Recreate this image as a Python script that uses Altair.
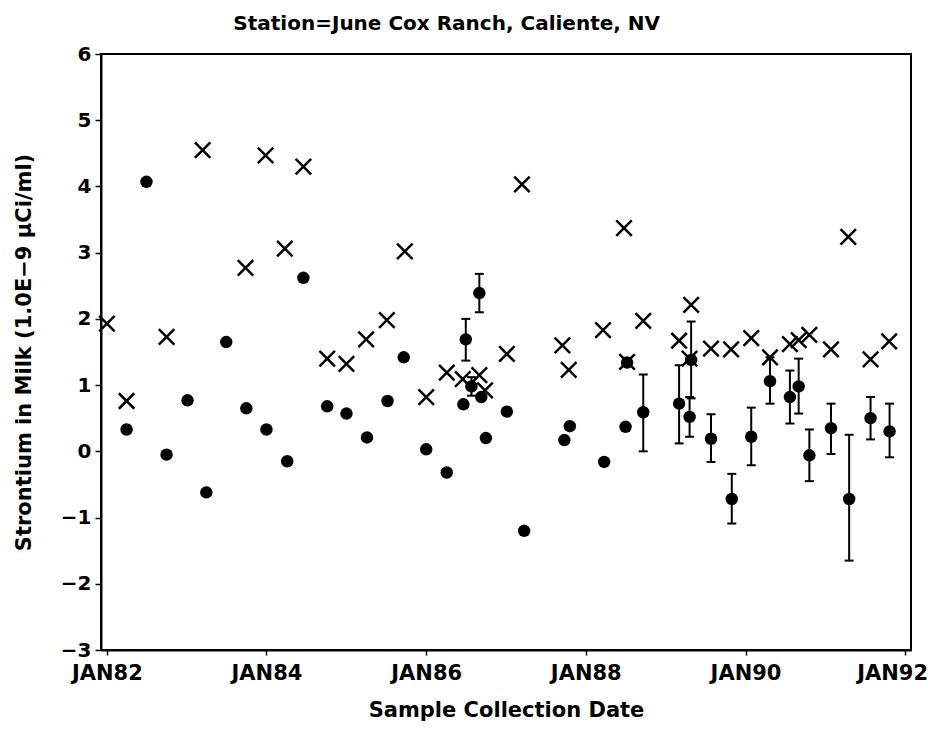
import altair as alt
import pandas as pd

# "X" marker series
cross_dates = ["1982-01-01", "1982-04-01", "1982-10-01", "1983-03-15", "1983-09-27",
               "1983-12-28", "1984-03-25", "1984-06-18", "1984-10-05", "1985-01-01",
               "1985-04-01", "1985-07-05", "1985-09-25", "1986-01-01", "1986-04-05",
               "1986-06-17", "1986-09-01", "1986-09-27", "1987-01-05", "1987-03-15",
               "1987-09-16", "1987-10-15", "1988-03-20", "1988-06-24", "1988-07-08",
               "1988-09-20", "1989-03-03", "1989-04-27", "1989-04-20", "1989-07-27",
               "1989-10-27", "1990-01-27", "1990-04-23", "1990-07-23", "1990-09-01",
               "1990-10-20", "1991-01-27", "1991-04-16", "1991-07-27", "1991-10-20"]
cross_values = [1.93, 0.76, 1.73, 4.55, 2.77,
                4.47, 3.06, 4.30, 1.40, 1.32,
                1.69, 1.98, 3.02, 0.82, 1.19,
                1.09, 1.15, 0.92, 1.47, 4.03,
                1.60, 1.23, 1.83, 3.37, 1.35,
                1.97, 1.67, 2.21, 1.40, 1.55,
                1.54, 1.71, 1.42, 1.62, 1.68,
                1.76, 1.54, 3.24, 1.39, 1.66]

# filled-circle series
dot_dates = ["1982-04-01", "1982-07-01", "1982-10-01", "1983-01-05", "1983-04-01",
             "1983-07-01", "1983-10-01", "1984-01-01", "1984-04-05", "1984-06-18",
             "1984-10-05", "1985-01-01", "1985-04-05", "1985-07-08", "1985-09-20",
             "1986-01-01", "1986-04-05", "1986-06-20", "1986-07-01", "1986-07-27",
             "1986-09-01", "1986-09-10", "1986-10-01", "1987-01-05", "1987-03-25",
             "1987-09-25", "1987-10-20", "1988-03-25", "1988-07-01", "1988-07-08",
             "1988-09-20", "1989-03-03", "1989-04-20", "1989-04-27", "1989-07-27",
             "1989-10-30", "1990-01-27", "1990-04-23", "1990-07-23", "1990-09-01",
             "1990-10-20", "1991-01-27", "1991-04-20", "1991-07-27", "1991-10-22"]
dot_values = [0.33, 4.07, -0.05, 0.77, -0.62,
              1.65, 0.65, 0.33, -0.15, 2.62,
              0.68, 0.57, 0.21, 0.76, 1.42,
              0.03, -0.32, 0.71, 1.69, 0.98,
              2.39, 0.82, 0.20, 0.60, -1.20,
              0.17, 0.38, -0.16, 0.37, 1.34,
              0.59, 0.72, 0.52, 1.38, 0.19,
              -0.72, 0.22, 1.06, 0.82, 0.98,
              -0.06, 0.35, -0.72, 0.50, 0.30]

# error bars on the filled circles
err_dates = ["1986-07-01", "1986-07-27", "1986-09-01", "1988-09-20", "1989-03-03",
             "1989-04-20", "1989-04-27", "1989-07-27", "1989-10-30", "1990-01-27",
             "1990-04-23", "1990-07-23", "1990-09-01", "1990-10-20", "1991-01-27",
             "1991-04-20", "1991-07-27", "1991-10-22"]
err_low = [1.37, 0.84, 2.10, 0.00, 0.12,
           0.22, 0.80, -0.16, -1.09, -0.21,
           0.72, 0.42, 0.57, -0.45, -0.04,
           -1.65, 0.18, -0.09]
err_high = [2.00, 1.12, 2.68, 1.16, 1.30,
            0.82, 1.96, 0.56, -0.34, 0.66,
            1.42, 1.22, 1.40, 0.33, 0.72,
            0.25, 0.82, 0.72]

tick_years = [1982, 1984, 1986, 1988, 1990, 1992]
y_ticks = [-3, -2, -1, 0, 1, 2, 3, 4, 5, 6]

cross_df = pd.DataFrame({"date": cross_dates, "value": cross_values})
dot_df = pd.DataFrame({"date": dot_dates, "value": dot_values})
err_df = pd.DataFrame({"date": err_dates, "lo": err_low, "hi": err_high})

FONT = "DejaVu Sans"

xscale = alt.Scale(type="utc", domain=[alt.DateTime(year=1981, month=12, date=5, utc=True),
                                       alt.DateTime(year=1992, month=1, date=28, utc=True)])
xaxis = alt.Axis(values=[alt.DateTime(year=y, month=1, date=1, utc=True) for y in tick_years],
                 labelExpr="upper(utcFormat(datum.value, '%b%y'))",
                 labelOffset={"condition": {"test": "utcyear(datum.value) >= 1992", "value": -13},
                              "value": 0},
                 labelFontSize=21,
                 tickSize=5, labelPadding=7, titlePadding=16, labelFlush=False)
yscale = alt.Scale(domain=[-3, 6], nice=False, zero=False)
yaxis = alt.Axis(values=y_ticks, format="d", tickSize=6, labelPadding=4, titlePadding=26)

X = alt.X("date:T", scale=xscale, axis=xaxis, title="Sample Collection Date")
Y_TITLE = "Strontium in Milk (1.0E\u22129 \u00b5Ci/ml)"

crosses = alt.Chart(cross_df).mark_point(
    shape="M-1,-1L1,1M-1,1L1,-1", size=240, filled=False, color="black", strokeWidth=2.5, opacity=1
).encode(x=X, y=alt.Y("value:Q", scale=yscale, axis=yaxis, title=Y_TITLE))

dots = alt.Chart(dot_df).mark_circle(size=155, color="black", opacity=1).encode(
    x=X, y=alt.Y("value:Q", scale=yscale, axis=yaxis, title=Y_TITLE))

bars = alt.Chart(err_df).mark_rule(color="black", strokeWidth=2).encode(
    x=X, y=alt.Y("lo:Q", scale=yscale, axis=yaxis, title=Y_TITLE), y2="hi:Q")

caps_lo = alt.Chart(err_df).mark_tick(color="black", orient="horizontal", size=9, thickness=2, opacity=1).encode(
    x=X, y=alt.Y("lo:Q", scale=yscale, axis=yaxis, title=Y_TITLE))
caps_hi = alt.Chart(err_df).mark_tick(color="black", orient="horizontal", size=9, thickness=2, opacity=1).encode(
    x=X, y=alt.Y("hi:Q", scale=yscale, axis=yaxis, title=Y_TITLE))

chart = alt.layer(bars, caps_lo, caps_hi, crosses, dots).properties(
    width=810, height=596,
    autosize="none",
    padding={"left": 93, "top": 46, "right": 17, "bottom": 77},
    title=alt.TitleParams("Station=June Cox Ranch, Caliente, NV", anchor="start", dx=220,
                          offset=10, font=FONT, fontSize=20, fontWeight="bold", color="black"),
).configure_axis(
    grid=False, domainColor="black", domainWidth=2, tickColor="black", tickWidth=1.5,
    labelColor="black", titleColor="black", labelFont=FONT, titleFont=FONT,
    labelFontSize=20, labelFontWeight="bold", titleFontSize=21, titleFontWeight="bold",
).configure_view(stroke="black", strokeWidth=2)

chart.save("out.html", embed_options={"renderer": "svg", "actions": False})
